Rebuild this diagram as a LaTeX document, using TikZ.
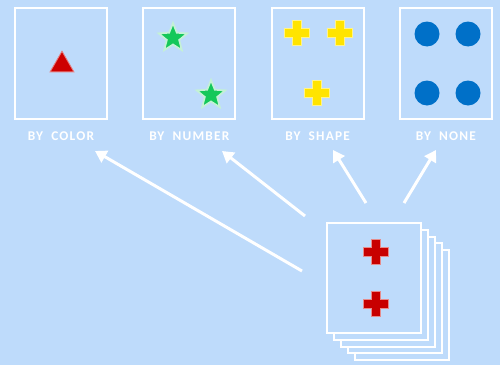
\documentclass[tikz,border=0pt]{standalone}
\usepackage{fontspec}
\setsansfont{Carlito}[LetterSpace=9]
\usetikzlibrary{positioning,shapes.geometric,arrows.meta}
\definecolor{bgblue}{RGB}{190,219,251}
\definecolor{tagred}{RGB}{205,0,0}
\definecolor{tagred2}{RGB}{200,0,0}
\definecolor{stargreen}{RGB}{20,200,90}
\definecolor{crossyellow}{RGB}{255,228,0}
\definecolor{dotblue}{RGB}{0,112,200}
\tikzset{
  card/.style={draw=white,line width=1.2pt,fill=bgblue,minimum width=1.84cm,minimum height=2.22cm,inner sep=0pt},
  tag/.style={text=white,inner sep=0pt,font=\sffamily\bfseries\fontsize{7.6}{8}\selectfont},
  ptr/.style={draw=white,line width=1.7pt,-{Triangle[length=6.5pt,width=7.5pt]}},
}
% plus sign: x, y, colour
\newcommand{\plusmark}[3]{%
  \filldraw[#3,draw=#3!45!white,line width=0.5pt,shift={(#1,#2)}]
    (-12.5,-4.3) -- (-4.3,-4.3) -- (-4.3,-12.5) -- (4.3,-12.5) -- (4.3,-4.3) -- (12.5,-4.3)
    -- (12.5,4.3) -- (4.3,4.3) -- (4.3,12.5) -- (-4.3,12.5) -- (-4.3,4.3) -- (-12.5,4.3) -- cycle;}
\begin{document}
\begin{tikzpicture}[x=0.02cm,y=-0.02cm]
\fill[bgblue] (0,0) rectangle (500,365);
% sorting targets
\foreach \i/\t in {0/COLOR,1/NUMBER,2/SHAPE,3/NONE} {
  \node[card] (c\i) at (61+128.3*\i,63.5) {};
  \node[tag,below=0.22cm of c\i] (l\i) {BY\hspace{0.3em} \t};
}
\node[fill=tagred,draw=tagred!50!white,line width=0.5pt,regular polygon,regular polygon sides=3,minimum size=0.55cm,inner sep=0pt] (tri) at (62,65) {};
\foreach \p [count=\k] in {(173,38),(211,95)}
  \node[star,star points=5,star point ratio=2.3,fill=stargreen,draw=white!75!stargreen,line width=1pt,minimum size=0.6cm,inner sep=0pt] (s\k) at \p {};
\plusmark{297}{33}{crossyellow}
\plusmark{340}{33}{crossyellow}
\plusmark{317}{93}{crossyellow}
\foreach \x/\y [count=\k] in {427/34,468/34,427/93,468/93}
  \fill[dotblue] (\x,\y) circle (12.5);
% deck of cards
\foreach \j in {4,3,2,1}
  \node[card,minimum width=1.88cm,minimum height=2.2cm] (d\j) at (374+7*\j,278+6.8*\j) {};
\node[card,minimum width=1.88cm,minimum height=2.2cm] (deck) at (374,278) {};
\plusmark{376}{252}{tagred2}
\plusmark{376}{304}{tagred2}
% arrows
\coordinate (f0) at (302,271); \coordinate (h0) at (95,151);
\coordinate (f1) at (305,216); \coordinate (h1) at (222,151);
\coordinate (f2) at (366,203); \coordinate (h2) at (333,150);
\coordinate (f3) at (404,203); \coordinate (h3) at (436,150);
\foreach \i in {0,...,3} \draw[ptr] (f\i) -- (h\i);
\end{tikzpicture}
\end{document}
